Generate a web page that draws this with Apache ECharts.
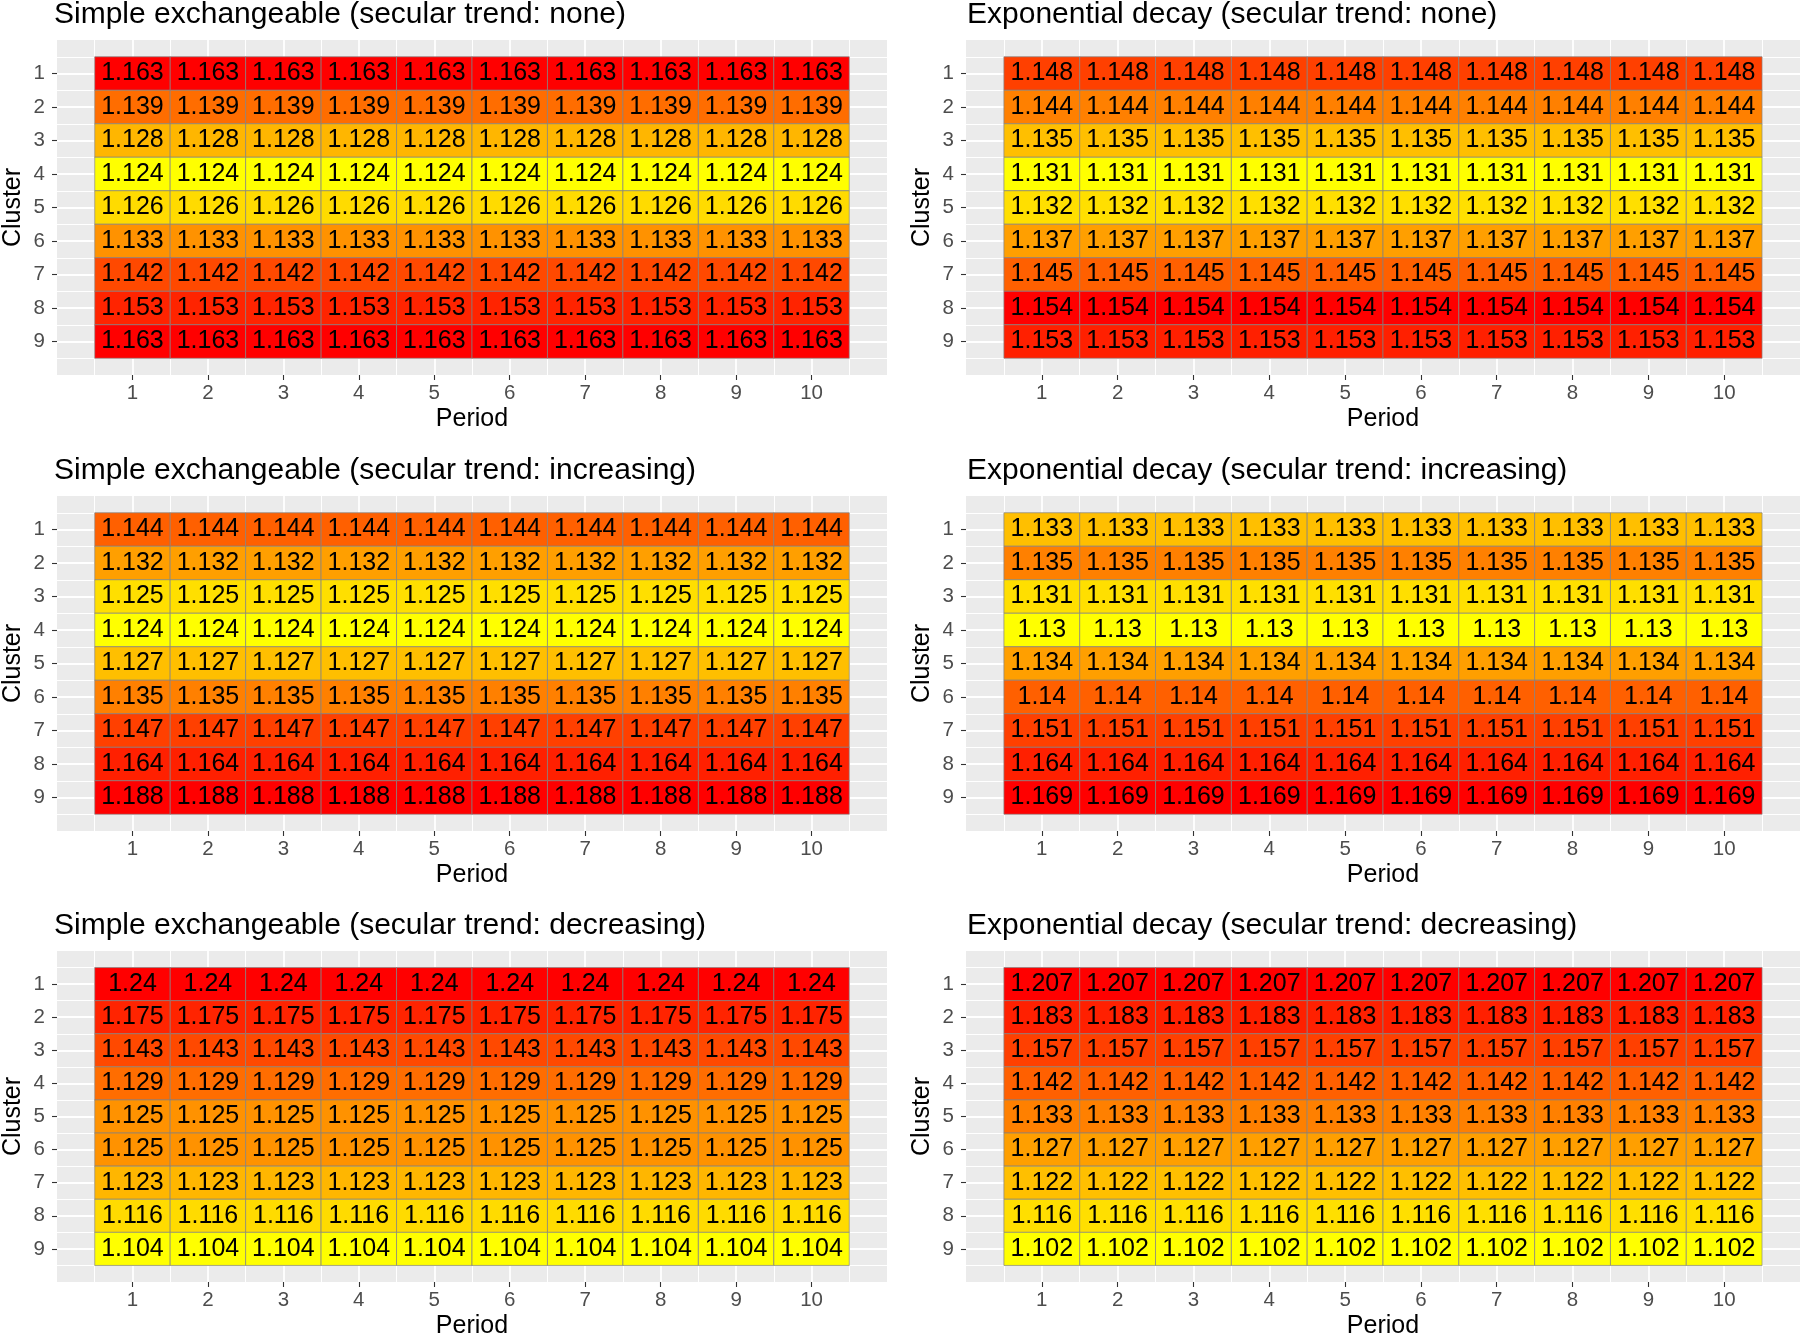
<!DOCTYPE html>
<html>
<head>
<meta charset="utf-8">
<script src="https://cdn.jsdelivr.net/npm/echarts@6/dist/echarts.min.js"></script>
<style>
html,body{margin:0;padding:0;background:#fff;}
#chart{width:1800px;height:1340px;}
</style>
</head>
<body>
<div id="chart"></div>
<script>
// ---- data ----
const periods = [1, 2, 3, 4, 5, 6, 7, 8, 9, 10];
const clusters = [1, 2, 3, 4, 5, 6, 7, 8, 9];
const titles = [
  'Simple exchangeable (secular trend: none)',
  'Exponential decay (secular trend: none)',
  'Simple exchangeable (secular trend: increasing)',
  'Exponential decay (secular trend: increasing)',
  'Simple exchangeable (secular trend: decreasing)',
  'Exponential decay (secular trend: decreasing)'
];
// value per cluster (identical across all periods)
const seNone = [1.163, 1.139, 1.128, 1.124, 1.126, 1.133, 1.142, 1.153, 1.163];
const edNone = [1.148, 1.144, 1.135, 1.131, 1.132, 1.137, 1.145, 1.154, 1.153];
const seInc  = [1.144, 1.132, 1.125, 1.124, 1.127, 1.135, 1.147, 1.164, 1.188];
const edInc  = [1.133, 1.135, 1.131, 1.13, 1.134, 1.14, 1.151, 1.164, 1.169];
const seDec  = [1.24, 1.175, 1.143, 1.129, 1.125, 1.125, 1.123, 1.116, 1.104];
const edDec  = [1.207, 1.183, 1.157, 1.142, 1.133, 1.127, 1.122, 1.116, 1.102];
const panelValues = [seNone, edNone, seInc, edInc, seDec, edDec];

// ---- layout ----
const FONT = 'Liberation Sans, Arial, Helvetica, sans-serif';
const colLeft = [53, 966];
const colWidth = [834, 834];
const rowOffset = [0, 456, 911];
const gridTop = 40;
const gridH = 335;

const grids = [], xAxes = [], yAxes = [], series = [], visualMaps = [], titleOpts = [];

panelValues.forEach((vals, i) => {
  const col = i % 2, row = Math.floor(i / 2);
  const uniq = Array.from(new Set(vals)).sort((a, b) => a - b);
  const data = [];
  clusters.forEach((c, ci) => {
    periods.forEach(p => {
      data.push([p, c, vals[ci], uniq.indexOf(vals[ci])]);
    });
  });
  grids.push({
    left: colLeft[col], top: gridTop + rowOffset[row], width: colWidth[col], height: gridH,
    show: true, backgroundColor: '#EBEBEB', borderWidth: 0, containLabel: false
  });
  xAxes.push({
    gridIndex: i, type: 'value', min: 0, max: 11, interval: 1, position: 'bottom',
    name: 'Period', nameLocation: 'middle', nameGap: 32,
    nameTextStyle: { fontFamily: FONT, fontSize: 25, color: '#000' },
    axisLine: { show: false, onZero: false },
    axisTick: { show: true, length: 5, lineStyle: { color: '#333333', width: 1.1 }, customValues: periods },
    axisLabel: { show: true, customValues: periods, color: '#4D4D4D', fontFamily: FONT, fontSize: 20.5, margin: 8 },
    splitLine: { show: true, lineStyle: { color: '#FFFFFF', width: 1.8 } },
    minorTick: { show: false, splitNumber: 2 },
    minorSplitLine: { show: true, lineStyle: { color: '#FFFFFF', width: 1 } }
  });
  yAxes.push({
    gridIndex: i, type: 'value', min: 0, max: 10, interval: 1, inverse: true, position: 'left',
    name: 'Cluster', nameLocation: 'middle', nameGap: 31,
    nameTextStyle: { fontFamily: FONT, fontSize: 25, color: '#000' },
    axisLine: { show: false, onZero: false },
    axisTick: { show: true, length: 5, lineStyle: { color: '#333333', width: 1.1 }, customValues: clusters },
    axisLabel: { show: true, customValues: clusters, color: '#4D4D4D', fontFamily: FONT, fontSize: 20.5, margin: 12 },
    splitLine: { show: true, lineStyle: { color: '#FFFFFF', width: 1.8 } },
    minorTick: { show: false, splitNumber: 2 },
    minorSplitLine: { show: true, lineStyle: { color: '#FFFFFF', width: 1 } }
  });
  visualMaps.push({
    type: 'continuous', show: false, seriesIndex: i, dimension: 3,
    min: 0, max: uniq.length - 1,
    inRange: { color: ['#FFFF00', '#FF0000'] }
  });
  titleOpts.push({
    text: titles[i], left: colLeft[col] + 1, top: rowOffset[row], padding: 0,
    textStyle: { fontFamily: FONT, fontSize: 30, fontWeight: 'normal', color: '#000' }
  });
  series.push({
    type: 'custom', xAxisIndex: i, yAxisIndex: i, data: data,
    renderItem: function (params, api) {
      const x = api.value(0), y = api.value(1);
      const a = api.coord([x - 0.5, y - 0.5]);
      const b = api.coord([x + 0.5, y + 0.5]);
      return {
        type: 'rect',
        shape: {
          x: Math.min(a[0], b[0]), y: Math.min(a[1], b[1]),
          width: Math.abs(b[0] - a[0]), height: Math.abs(b[1] - a[1])
        },
        style: { fill: api.visual('color'), stroke: 'rgba(130,130,130,0.7)', lineWidth: 1 },
        textContent: {
          style: { text: String(api.value(2)), fontFamily: FONT, fontSize: 25, fill: '#000' }
        },
        textConfig: { position: 'inside' }
      };
    }
  });
});

const chart = echarts.init(document.getElementById('chart'), null, { renderer: 'canvas' });
chart.setOption({
  animation: false,
  backgroundColor: '#FFFFFF',
  title: titleOpts,
  grid: grids,
  xAxis: xAxes,
  yAxis: yAxes,
  visualMap: visualMaps,
  series: series
});
</script>
</body>
</html>
